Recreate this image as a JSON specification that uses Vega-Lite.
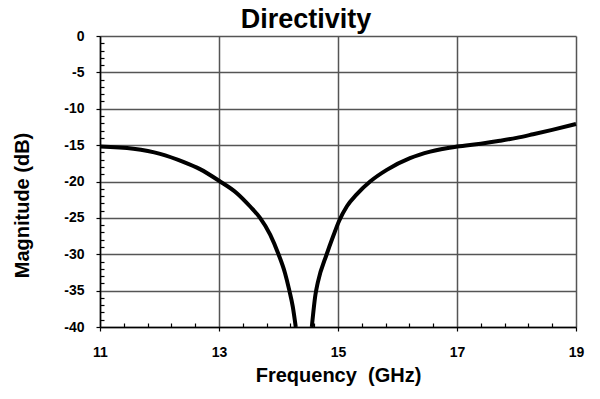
{
  "$schema": "https://vega.github.io/schema/vega-lite/v6.json",
  "width": 476,
  "height": 291,
  "autosize": {"type": "none"},
  "padding": {"left": 100, "top": 36, "right": 24, "bottom": 72},
  "background": "white",
  "title": {"text": "Directivity", "fontSize": 27, "font": "Liberation Sans", "fontWeight": "bold", "color": "black", "anchor": "middle", "frame": "group", "dx": -32, "offset": -5},
  "data": {"values": [
    {"branch": "low", "f": 11.0, "db": -15.2},
    {"branch": "low", "f": 11.56, "db": -15.5},
    {"branch": "low", "f": 12.01, "db": -16.2},
    {"branch": "low", "f": 12.4, "db": -17.3},
    {"branch": "low", "f": 12.68, "db": -18.3},
    {"branch": "low", "f": 13.0, "db": -19.9},
    {"branch": "low", "f": 13.3, "db": -21.6},
    {"branch": "low", "f": 13.52, "db": -23.4},
    {"branch": "low", "f": 13.69, "db": -25.0},
    {"branch": "low", "f": 13.86, "db": -27.3},
    {"branch": "low", "f": 14.0, "db": -30.0},
    {"branch": "low", "f": 14.11, "db": -32.6},
    {"branch": "low", "f": 14.18, "db": -34.9},
    {"branch": "low", "f": 14.24, "db": -37.2},
    {"branch": "low", "f": 14.29, "db": -40.0},
    {"branch": "high", "f": 14.56, "db": -40.0},
    {"branch": "high", "f": 14.62, "db": -35.6},
    {"branch": "high", "f": 14.66, "db": -33.9},
    {"branch": "high", "f": 14.81, "db": -30.0},
    {"branch": "high", "f": 14.92, "db": -27.5},
    {"branch": "high", "f": 15.02, "db": -25.4},
    {"branch": "high", "f": 15.15, "db": -23.4},
    {"branch": "high", "f": 15.31, "db": -21.8},
    {"branch": "high", "f": 15.54, "db": -20.0},
    {"branch": "high", "f": 15.82, "db": -18.4},
    {"branch": "high", "f": 16.21, "db": -16.8},
    {"branch": "high", "f": 16.55, "db": -15.9},
    {"branch": "high", "f": 17.0, "db": -15.2},
    {"branch": "high", "f": 17.4, "db": -14.8},
    {"branch": "high", "f": 17.72, "db": -14.4},
    {"branch": "high", "f": 18.0, "db": -14.0},
    {"branch": "high", "f": 18.28, "db": -13.5},
    {"branch": "high", "f": 18.6, "db": -12.9},
    {"branch": "high", "f": 19.0, "db": -12.1}
  ]},
  "mark": {"type": "line", "color": "black", "strokeWidth": 4, "interpolate": "monotone"},
  "encoding": {
    "x": {
      "field": "f", "type": "quantitative",
      "scale": {"domain": [11, 19], "nice": false, "zero": false},
      "axis": {
        "title": "Frequency\u00a0 (GHz)",
        "values": [11, 11.4, 11.8, 12.2, 12.6, 13, 13.4, 13.8, 14.2, 14.6, 15, 15.4, 15.8, 16.2, 16.6, 17, 17.4, 17.8, 18.2, 18.6, 19],
        "labelExpr": "abs(round(datum.value * 10) % 20) == 10 ? '' + round(datum.value) : ''",
        "labelFont": "Liberation Sans", "labelFontSize": 14, "labelFontWeight": "bold", "labelColor": "black",
        "labelPadding": 14, "labelFlush": false,
        "titleFont": "Liberation Sans", "titleFontSize": 20, "titleFontWeight": "bold", "titleColor": "black", "titlePadding": 6,
        "domainColor": "black", "domainWidth": 1.5,
        "gridColor": "#555", "gridWidth": 1.5,
        "gridOpacity": {"condition": {"test": "abs(round(datum.value * 10) % 20) == 10", "value": 1}, "value": 0},
        "tickColor": "black", "tickWidth": 1.2,
        "tickSize": {"condition": {"test": "abs(round(datum.value * 10) % 20) == 10", "value": 4}, "value": -4}
      }
    },
    "y": {
      "field": "db", "type": "quantitative",
      "scale": {"domain": [-40, 0], "nice": false, "zero": false},
      "axis": {
        "title": "Magnitude (dB)",
        "values": [-40, -39, -38, -37, -36, -35, -34, -33, -32, -31, -30, -29, -28, -27, -26, -25, -24, -23, -22, -21, -20, -19, -18, -17, -16, -15, -14, -13, -12, -11, -10, -9, -8, -7, -6, -5, -4, -3, -2, -1, 0],
        "labelExpr": "datum.value % 5 == 0 ? '' + datum.value : ''",
        "labelFont": "Liberation Sans", "labelFontSize": 14, "labelFontWeight": "bold", "labelColor": "black",
        "labelPadding": 12, "labelFlush": false,
        "titleFont": "Liberation Sans", "titleFontSize": 20, "titleFontWeight": "bold", "titleColor": "black",
        "titleX": -78, "titleY": 169, "titleBaseline": "middle", "titleAlign": "center", "titleAngle": -90,
        "domainColor": "black", "domainWidth": 1.5,
        "gridColor": "#555", "gridWidth": 1.5,
        "gridOpacity": {"condition": {"test": "datum.value % 5 == 0", "value": 1}, "value": 0},
        "tickColor": "black", "tickWidth": 1.2,
        "tickSize": {"condition": {"test": "datum.value % 5 == 0", "value": 4}, "value": -4}
      }
    },
    "detail": {"field": "branch"}
  },
  "config": {"view": {"stroke": null}}
}
